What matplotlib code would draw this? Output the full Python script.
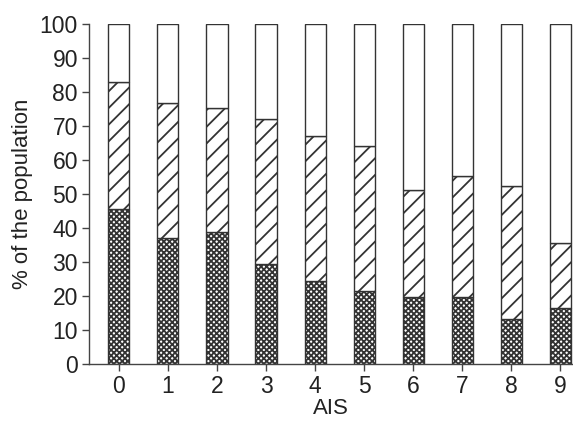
import matplotlib
matplotlib.use("Agg")
import matplotlib.pyplot as plt
import numpy as np

plt.rcParams['font.family'] = ['Liberation Sans Narrow', 'Liberation Sans', 'DejaVu Sans']
plt.rcParams['hatch.linewidth'] = 1.3

categories = ['0', '1', '2', '3', '4', '5', '6', '7', '8', '9']
bottom_pct = [45.5, 37.1, 38.7, 29.4, 24.5, 21.5, 19.7, 19.8, 13.2, 16.6]
cum_middle_pct = [83.0, 76.9, 75.2, 72.2, 67.0, 64.2, 51.2, 55.3, 52.3, 35.6]
yticks = list(range(0, 101, 10))

middle_pct = [c - b for c, b in zip(cum_middle_pct, bottom_pct)]
top_pct = [100 - c for c in cum_middle_pct]

fig = plt.figure(figsize=(5.73, 4.25), dpi=100)
ax = fig.add_axes([89/573, 61/425, (573-89)/573, (364-24)/425])

x = np.arange(len(categories))
w = 0.43
ec = '#333333'
ax.bar(x, bottom_pct, w, color='white', edgecolor=ec, hatch='xxxxxx', linewidth=1.0)
ax.bar(x, middle_pct, w, bottom=bottom_pct, color='white', edgecolor=ec, hatch='//', linewidth=1.0)
ax.bar(x, top_pct, w, bottom=cum_middle_pct, color='white', edgecolor=ec, linewidth=1.0)

ax.set_xlim(-0.61, 9.26)
ax.set_ylim(0, 100)
ax.set_xticks(x)
ax.set_xticklabels(categories)
ax.set_yticks(yticks)
ax.tick_params(axis='both', labelsize=16.5, length=5, width=1, color='#444444', labelcolor='#222222')
ax.tick_params(axis='y', pad=3)
ax.tick_params(axis='x', pad=3)
for s in ['top', 'right']:
    ax.spines[s].set_visible(False)
for s in ['left', 'bottom']:
    ax.spines[s].set_color('#444444')
    ax.spines[s].set_linewidth(1.0)
ax.set_xlabel('AIS', fontsize=16, color='#222222', labelpad=0)
ax.set_ylabel('% of the population', fontsize=16, color='#222222', labelpad=5)

fig.savefig('out.png', dpi=100)
